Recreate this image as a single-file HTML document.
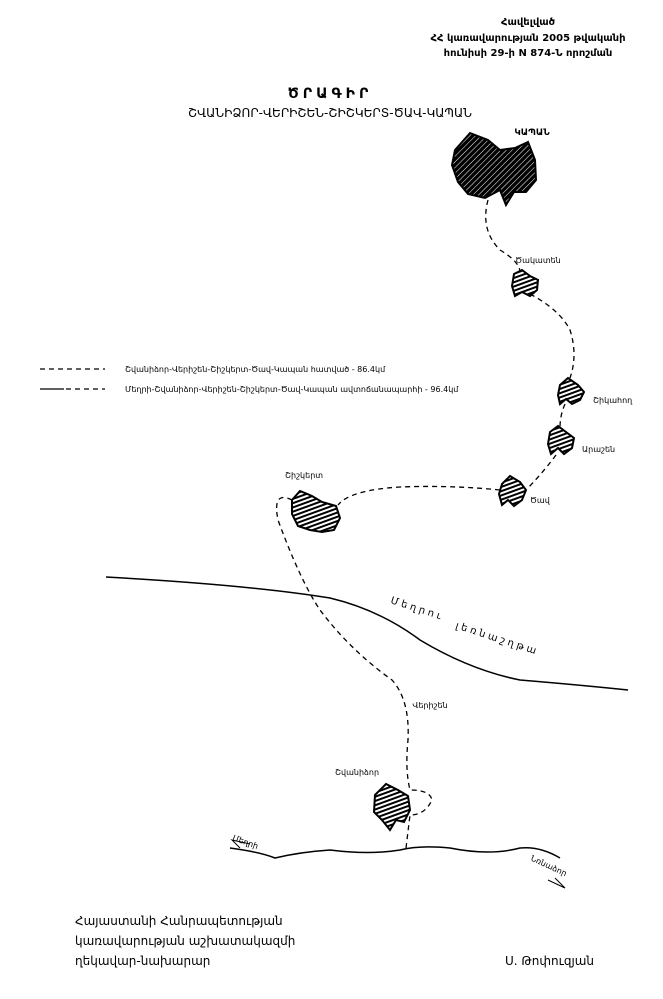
<!DOCTYPE html>
<html><head><meta charset="utf-8"><style>
html,body{margin:0;padding:0;background:#fff}
svg{display:block}
text{font-family:"DejaVu Sans","Liberation Sans",sans-serif;fill:#000}
</style></head><body>
<svg width="663" height="999" viewBox="0 0 663 999" xmlns="http://www.w3.org/2000/svg">
<defs>
<pattern id="d" width="4" height="4" patternUnits="userSpaceOnUse" patternTransform="rotate(45)"><rect width="4" height="4" fill="#000"/><line x1="0" y1="0" x2="0" y2="4" stroke="#fff" stroke-width="1"/></pattern>
<pattern id="h" width="4" height="4" patternUnits="userSpaceOnUse" patternTransform="rotate(-20)"><rect width="4" height="4" fill="#fff"/><line x1="0" y1="1" x2="4" y2="1" stroke="#000" stroke-width="2"/></pattern>
</defs>
<text x="528" y="25" font-size="10" text-anchor="middle" font-weight="bold">Հավելված</text>
<text x="528" y="41" font-size="10" text-anchor="middle" font-weight="bold">ՀՀ կառավարության 2005 թվականի</text>
<text x="528" y="56" font-size="10" text-anchor="middle" font-weight="bold">հունիսի 29-ի N  874-Ն որոշման</text>
<text x="330" y="98" font-size="14" font-weight="bold" text-anchor="middle" letter-spacing="4">ԾՐԱԳԻՐ</text>
<text x="330" y="117" font-size="12" text-anchor="middle">ՇՎԱՆԻՁՈՐ-ՎԵՐԻՇԵՆ-ՇԻՇԿԵՐՏ-ԾԱՎ-ԿԱՊԱՆ</text>
<text x="532" y="135" font-size="9" font-weight="bold" text-anchor="middle">ԿԱՊԱՆ</text>
<path d="M455 150 L470 133 L488 140 L500 150 L515 148 L528 142 L535 160 L536 180 L526 192 L514 192 L506 205 L500 190 L485 198 L468 194 L458 182 L452 165 Z" fill="url(#d)" stroke="#000" stroke-width="2"/>
<text x="538" y="263" font-size="8" text-anchor="middle">Ծակատեն</text>
<path d="M514 274 L522 270 L530 276 L538 280 L537 290 L530 296 L522 292 L515 296 L512 286 Z" fill="url(#h)" stroke="#000" stroke-width="2"/>
<path d="M560 385 L568 378 L578 385 L584 392 L580 400 L572 404 L566 399 L560 404 L558 395 Z" fill="url(#h)" stroke="#000" stroke-width="2"/>
<text x="593" y="403" font-size="8">Շիկահող</text>
<path d="M550 432 L558 426 L566 432 L574 438 L572 448 L564 454 L558 448 L551 454 L548 444 Z" fill="url(#h)" stroke="#000" stroke-width="2"/>
<text x="582" y="452" font-size="8">Արաշեն</text>
<path d="M502 484 L510 476 L520 482 L526 490 L522 500 L514 506 L508 500 L502 505 L499 494 Z" fill="url(#h)" stroke="#000" stroke-width="2"/>
<text x="530" y="503" font-size="8">Ծավ</text>
<text x="304" y="478" font-size="8" text-anchor="middle">Շիշկերտ</text>
<path d="M292 500 L300 491 L312 496 L322 502 L336 506 L340 518 L334 530 L322 532 L310 530 L298 526 L292 514 Z" fill="url(#h)" stroke="#000" stroke-width="2"/>
<text x="430" y="708" font-size="8" text-anchor="middle">Վերիշեն</text>
<text x="357" y="775" font-size="8" text-anchor="middle">Շվանիձոր</text>
<path d="M375 795 L386 784 L398 790 L408 796 L410 810 L404 822 L396 820 L390 830 L382 820 L374 812 Z" fill="url(#h)" stroke="#000" stroke-width="2"/>
<g fill="none" stroke="#000" stroke-width="1.3" stroke-dasharray="5,4">
<path d="M488 200 Q480 230 500 250 Q520 262 520 272"/>
<path d="M530 294 Q560 310 570 330 Q578 355 570 378"/>
<path d="M565 404 Q560 415 560 428"/>
<path d="M556 455 Q545 470 528 488"/>
<path d="M500 490 Q450 485 400 487 Q350 490 338 505"/>
<path d="M292 500 Q272 490 278 520 Q300 580 320 610 Q350 650 392 680 Q410 700 408 740 Q405 770 410 790 Q430 790 432 800 Q425 815 410 815 L406 848"/>
<line x1="40" y1="369" x2="105" y2="369"/>
<line x1="66" y1="389" x2="105" y2="389"/>
</g>
<line x1="40" y1="389" x2="64" y2="389" stroke="#000" stroke-width="1.3"/>
<text x="125" y="372" font-size="8">Շվանիձոր-Վերիշեն-Շիշկերտ-Ծավ-Կապան հատված - 86.4կմ</text>
<text x="125" y="392" font-size="8">Մեղրի-Շվանիձոր-Վերիշեն-Շիշկերտ-Ծավ-Կապան ավտոճանապարհի - 96.4կմ</text>
<path d="M106 577 Q250 585 330 598 Q380 610 420 640 Q470 670 520 680 Q580 685 628 690" fill="none" stroke="#000" stroke-width="1.5"/>
<text x="390" y="603" font-size="10" transform="rotate(18 390 603)" letter-spacing="3">Մեղրու</text>
<text x="455" y="628" font-size="10" transform="rotate(18 455 628)" letter-spacing="3">լեռնաշղթա</text>
<path d="M230 848 Q260 852 275 858 Q300 852 330 850 Q370 855 400 850 Q420 845 450 848 Q490 856 520 848 Q540 846 560 858" fill="none" stroke="#000" stroke-width="1.5"/>
<text x="232" y="840" font-size="8" transform="rotate(20 232 840)">Մեղրի</text>
<path d="M250 844 L232 840 L240 848" fill="none" stroke="#000" stroke-width="1"/>
<text x="530" y="860" font-size="8" transform="rotate(25 530 860)">Նռնաձոր</text>
<path d="M548 880 L565 888 L555 878" fill="none" stroke="#000" stroke-width="1"/>
<text x="75" y="925" font-size="12">Հայաստանի Հանրապետության</text>
<text x="75" y="945" font-size="12">կառավարության աշխատակազմի</text>
<text x="75" y="965" font-size="12">ղեկավար-նախարար</text>
<text x="505" y="965" font-size="12">Ս. Թոփուզյան</text>
</svg>
</body></html>
